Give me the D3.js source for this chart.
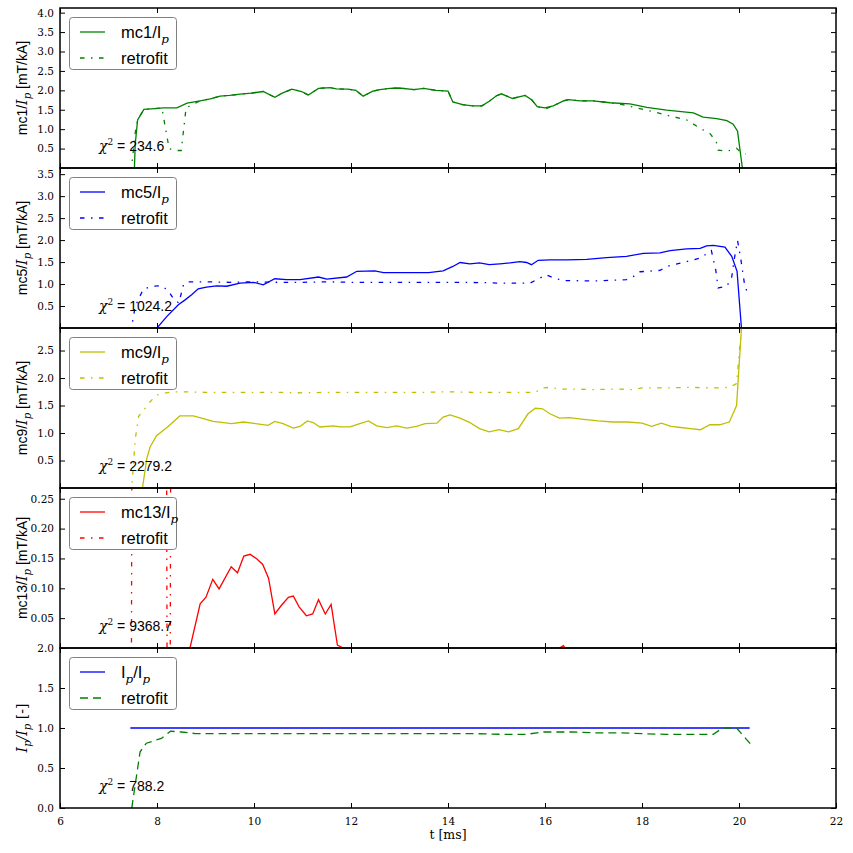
<!DOCTYPE html>
<html><head><meta charset="utf-8">
<script src="https://cdn.jsdelivr.net/npm/d3@7"></script>
<style>body{margin:0;background:#fff;} svg{display:block}</style>
</head><body>
<svg id="chart" width="853" height="853"></svg>
<script>
// ---------------- data ----------------
const xTicks = [6, 8, 10, 12, 14, 16, 18, 20, 22];
const chi2Values = ["234.6", "1024.2", "2279.2", "9368.7", "788.2"];

const yTicks1 = [0.5, 1.0, 1.5, 2.0, 2.5, 3.0, 3.5, 4.0];
const yTicks2 = [0.5, 1.0, 1.5, 2.0, 2.5, 3.0, 3.5];
const yTicks3 = [0.5, 1.0, 1.5, 2.0, 2.5];
const yTicks4 = [0.05, 0.10, 0.15, 0.20, 0.25];
const yTicks5 = [0.0, 0.5, 1.0, 1.5, 2.0];

const mc1T = [7.53,7.55,7.60,7.73,7.95,8.13,8.41,8.62,8.89,9.10,9.30,9.50,9.71,9.95,10.19,10.43,10.57,10.78,10.98,11.12,11.33,11.57,11.70,11.94,12.10,12.25,12.45,12.60,12.80,13.00,13.30,13.50,13.75,14.00,14.10,14.30,14.50,14.70,14.85,15.00,15.10,15.33,15.59,15.73,15.84,16.00,16.17,16.38,16.48,16.72,16.99,17.34,17.75,18.10,18.51,19.06,19.26,19.54,19.75,19.88,19.97,20.08];
const mc1V = [-0.2,0.6,1.24,1.51,1.53,1.55,1.55,1.67,1.73,1.78,1.85,1.87,1.90,1.93,1.97,1.82,1.92,2.03,1.97,1.88,2.05,2.07,2.04,2.03,2.00,1.85,1.98,2.02,2.05,2.06,2.02,2.05,2.00,1.98,1.70,1.63,1.60,1.60,1.72,1.86,1.91,1.79,1.87,1.75,1.58,1.55,1.60,1.73,1.76,1.73,1.73,1.68,1.65,1.56,1.49,1.42,1.31,1.27,1.22,1.13,0.95,-0.1];
const fit1T = [7.46,7.50,7.55,7.60,7.73,7.95,8.10,8.25,8.35,8.50,8.60,8.89,9.10,9.30,9.50,9.71,9.95,10.19,10.43,10.57,10.78,10.98,11.12,11.33,11.57,11.70,11.94,12.10,12.25,12.45,12.60,12.80,13.00,13.30,13.50,13.75,14.00,14.10,14.30,14.50,14.70,14.85,15.00,15.10,15.33,15.59,15.73,15.84,16.00,16.17,16.38,16.48,16.72,16.99,17.34,17.60,17.92,18.23,18.51,18.92,19.20,19.40,19.53,19.57,19.75,19.95,20.02,20.14];
const fit1V = [-0.1,0.3,0.9,1.24,1.51,1.53,1.55,0.50,0.45,0.45,1.55,1.73,1.78,1.85,1.87,1.90,1.93,1.97,1.82,1.92,2.03,1.97,1.88,2.05,2.07,2.04,2.03,2.00,1.85,1.98,2.02,2.05,2.06,2.02,2.05,2.00,1.98,1.70,1.63,1.60,1.60,1.72,1.86,1.91,1.79,1.87,1.75,1.58,1.52,1.60,1.73,1.76,1.73,1.73,1.68,1.63,1.54,1.45,1.36,1.24,1.02,0.89,0.68,0.46,0.43,0.51,0.42,0.36];

const mc5T = [7.98,8.00,8.20,8.44,8.58,8.72,8.85,9.02,9.23,9.44,9.71,9.99,10.19,10.43,10.67,10.95,11.33,11.50,11.91,12.12,12.49,12.67,13.01,13.30,13.60,13.90,14.10,14.25,14.45,14.65,14.85,15.07,15.28,15.48,15.62,15.72,15.86,16.10,16.45,16.86,17.27,17.68,18.03,18.37,18.58,18.92,19.20,19.33,19.47,19.71,19.85,19.96,20.05];
const mc5V = [-0.1,0.00,0.26,0.53,0.64,0.76,0.89,0.93,0.96,0.95,1.02,1.04,0.98,1.12,1.10,1.10,1.16,1.11,1.16,1.29,1.30,1.26,1.26,1.26,1.26,1.30,1.40,1.49,1.46,1.48,1.44,1.46,1.48,1.51,1.49,1.44,1.54,1.55,1.55,1.56,1.60,1.63,1.70,1.71,1.76,1.80,1.81,1.87,1.88,1.84,1.63,1.29,0.00];
const fit5T = [7.46,7.48,7.55,7.72,7.92,8.10,8.23,8.35,8.45,8.55,8.65,9.00,9.50,10.00,10.50,11.00,11.50,12.00,12.50,12.87,13.30,13.80,14.30,14.80,15.07,15.69,15.83,16.03,16.17,16.38,16.99,17.68,17.82,17.96,18.37,18.51,18.92,19.20,19.43,19.52,19.57,19.75,19.85,19.90,19.97,20.04,20.12,20.21];
const fit5V = [-0.1,0.04,0.49,0.89,0.95,0.96,0.85,0.65,0.57,1.00,1.05,1.05,1.04,1.05,1.04,1.04,1.05,1.04,1.04,1.04,1.04,1.04,1.04,1.03,1.02,1.02,1.10,1.21,1.14,1.08,1.07,1.10,1.17,1.28,1.31,1.40,1.51,1.59,1.76,1.32,0.91,0.95,1.16,1.55,1.99,1.55,0.95,0.72];

const mc9T = [7.68,7.70,7.79,7.86,7.99,8.23,8.47,8.75,9.16,9.54,9.78,10.29,10.43,10.60,10.81,10.95,11.10,11.22,11.36,11.64,11.77,11.98,12.15,12.36,12.53,12.74,12.94,13.15,13.35,13.53,13.77,13.90,14.04,14.25,14.45,14.65,14.85,15.05,15.25,15.45,15.65,15.80,15.95,16.10,16.30,16.50,16.80,17.10,17.40,17.70,18.00,18.20,18.40,18.60,18.80,19.00,19.20,19.40,19.60,19.80,19.95,20.05,20.12];
const mc9V = [-0.1,0.00,0.54,0.75,0.95,1.12,1.31,1.31,1.21,1.17,1.20,1.14,1.21,1.17,1.09,1.12,1.22,1.19,1.11,1.13,1.11,1.11,1.16,1.22,1.13,1.10,1.13,1.09,1.12,1.17,1.18,1.29,1.33,1.27,1.19,1.08,1.02,1.06,1.02,1.08,1.35,1.45,1.44,1.35,1.27,1.28,1.25,1.22,1.20,1.20,1.18,1.12,1.18,1.12,1.10,1.08,1.06,1.15,1.15,1.20,1.50,2.90,3.00];
const fit9T = [7.46,7.48,7.55,7.62,7.86,7.99,8.13,8.34,8.60,9.00,9.50,10.00,10.50,11.00,11.50,12.00,12.50,13.00,13.50,14.00,14.50,15.00,15.50,15.80,15.95,16.10,16.30,16.60,17.00,17.50,17.80,18.00,18.50,19.00,19.50,19.80,19.95,20.05,20.10];
const fit9V = [-0.1,0.00,0.88,1.30,1.57,1.69,1.72,1.75,1.75,1.74,1.74,1.74,1.74,1.73,1.74,1.74,1.74,1.74,1.74,1.75,1.74,1.74,1.74,1.74,1.82,1.83,1.80,1.80,1.79,1.80,1.79,1.82,1.82,1.83,1.82,1.83,1.90,2.90,3.00];

const mc13T = [7.48,8.60,8.68,8.89,9.01,9.15,9.28,9.53,9.66,9.79,9.92,10.06,10.18,10.30,10.43,10.57,10.71,10.81,10.93,11.08,11.21,11.33,11.47,11.59,11.72,11.84,11.95,13.00,14.00,15.00,16.20,16.38,16.45,17.00,18.00,19.00,20.00,20.20];
const mc13V = [-0.2,-0.02,0.000,0.074,0.085,0.115,0.099,0.136,0.126,0.154,0.157,0.149,0.140,0.117,0.057,0.072,0.085,0.087,0.069,0.054,0.057,0.081,0.057,0.073,0.005,0.000,-0.01,-0.02,-0.02,-0.02,-0.005,0.004,-0.005,-0.02,-0.02,-0.02,-0.02,-0.3];
const fit13T = [7.46,7.50,8.18,8.22,8.26,8.30,20.20];
const fit13V = [-0.5,1.0,1.0,-0.5,-0.5,1.0,1.0];

const ipT = [7.45,20.22];
const ipV = [1.0,1.0];
const fitIpT = [7.48,7.65,7.78,8.09,8.28,8.50,8.80,9.50,10.50,11.50,12.50,13.50,14.50,15.20,15.60,15.97,16.55,17.00,17.52,18.00,18.50,19.00,19.47,19.66,19.95,20.25];
const fitIpV = [0.00,0.70,0.81,0.87,0.96,0.95,0.93,0.93,0.93,0.93,0.93,0.93,0.93,0.92,0.92,0.95,0.95,0.94,0.94,0.93,0.92,0.92,0.92,1.00,1.00,0.79];

// ---------------- layout / style ----------------
const SANS = "'Liberation Sans', Arial, sans-serif";
const SERIF = "'DejaVu Serif', serif";
const DASHDOT = "4.5,6.5,1.5,6.5";
const DASHED = "8,5";
const X0 = 60, X1 = 836, TOP = 8, PH = 160;

const panels = [
  {t: mc1T, v: mc1V, ft: fit1T, fv: fit1V, color: "#008000", fitColor: "#008000", dash: DASHDOT,
   domain: [0, 4.12], ticks: yTicks1, fmt: d3.format(".1f"), chi: chi2Values[0],
   ylabel: [{t:"mc1/",f:"sans"},{t:"I",f:"serif",it:1},{t:"p",f:"serif",it:1,sub:1},{t:" [mT/kA]",f:"sans"}],
   legend: [{t:"mc1/I",f:"sans"},{t:"p",f:"serif",it:1,sub:1}]},
  {t: mc5T, v: mc5V, ft: fit5T, fv: fit5V, color: "#0000ff", fitColor: "#0000ff", dash: DASHDOT,
   domain: [0, 3.64], ticks: yTicks2, fmt: d3.format(".1f"), chi: chi2Values[1],
   ylabel: [{t:"mc5/",f:"sans"},{t:"I",f:"serif",it:1},{t:"p",f:"serif",it:1,sub:1},{t:" [mT/kA]",f:"sans"}],
   legend: [{t:"mc5/I",f:"sans"},{t:"p",f:"serif",it:1,sub:1}]},
  {t: mc9T, v: mc9V, ft: fit9T, fv: fit9V, color: "#bfbf00", fitColor: "#bfbf00", dash: DASHDOT,
   domain: [0, 2.91], ticks: yTicks3, fmt: d3.format(".1f"), chi: chi2Values[2],
   ylabel: [{t:"mc9/",f:"sans"},{t:"I",f:"serif",it:1},{t:"p",f:"serif",it:1,sub:1},{t:" [mT/kA]",f:"sans"}],
   legend: [{t:"mc9/I",f:"sans"},{t:"p",f:"serif",it:1,sub:1}]},
  {t: mc13T, v: mc13V, ft: fit13T, fv: fit13V, color: "#ff0000", fitColor: "#ff0000", dash: DASHDOT,
   domain: [0, 0.268], ticks: yTicks4, fmt: d3.format(".2f"), chi: chi2Values[3],
   ylabel: [{t:"mc13/",f:"sans"},{t:"I",f:"serif",it:1},{t:"p",f:"serif",it:1,sub:1},{t:" [mT/kA]",f:"sans"}],
   legend: [{t:"mc13/I",f:"sans"},{t:"p",f:"serif",it:1,sub:1}]},
  {t: ipT, v: ipV, ft: fitIpT, fv: fitIpV, color: "#0000ff", fitColor: "#008000", dash: DASHED,
   domain: [0, 2.0], ticks: yTicks5, fmt: d3.format(".1f"), chi: chi2Values[4],
   ylabel: [{t:"I",f:"serif",it:1},{t:"p",f:"serif",it:1,sub:1},{t:"/",f:"serif",it:1},{t:"I",f:"serif",it:1},{t:"p",f:"serif",it:1,sub:1},{t:" [-]",f:"serif"}],
   legend: [{t:"I",f:"sans"},{t:"p",f:"serif",it:1,sub:1},{t:"/I",f:"sans"},{t:"p",f:"serif",it:1,sub:1}]}
];

const svg = d3.select("#chart");
const x = d3.scaleLinear().domain([6, 22]).range([X0, X1]);

function rich(sel, parts, size) {
  let shift = 0;
  parts.forEach(p => {
    const fs = p.sub ? size * 0.72 : size;
    const target = p.sub ? size * 0.3 : 0;
    sel.append("tspan").text(p.t)
      .attr("font-family", p.f === "sans" ? SANS : SERIF)
      .attr("font-style", p.it ? "italic" : "normal")
      .attr("font-size", fs)
      .attr("dy", target - shift);
    shift = target;
  });
}

panels.forEach((P, i) => {
  const top = TOP + i * PH, bot = top + PH;
  const y = d3.scaleLinear().domain(P.domain).range([bot, top]);
  const g = svg.append("g");
  const clipId = "clip" + i;
  svg.append("clipPath").attr("id", clipId).append("rect")
    .attr("x", X0).attr("y", top).attr("width", X1 - X0).attr("height", PH);

  const line = d3.line().x(d => x(d[0])).y(d => y(d[1]));
  const lines = g.append("g").attr("clip-path", `url(#${clipId})`);
  lines.append("path").datum(d3.zip(P.t, P.v)).attr("d", line)
    .attr("fill", "none").attr("stroke", P.color).attr("stroke-width", 1.3);
  lines.append("path").datum(d3.zip(P.ft, P.fv)).attr("d", line)
    .attr("fill", "none").attr("stroke", P.fitColor).attr("stroke-width", 1.3)
    .attr("stroke-dasharray", P.dash);

  // axes (inward ticks on all sides)
  const left = d3.axisLeft(y).tickValues(P.ticks).tickFormat(P.fmt).tickSizeInner(-5).tickSizeOuter(0).tickPadding(6);
  const right = d3.axisRight(y).tickValues(P.ticks).tickFormat("").tickSizeInner(-5).tickSizeOuter(0);
  const topAx = d3.axisTop(x).tickValues(xTicks).tickFormat("").tickSizeInner(-5).tickSizeOuter(0);
  const botAx = d3.axisBottom(x).tickValues(xTicks).tickSizeInner(-5).tickSizeOuter(0).tickPadding(10)
    .tickFormat(i === 4 ? d3.format("d") : "");
  const axes = [
    g.append("g").attr("transform", `translate(${X0},0)`).call(left),
    g.append("g").attr("transform", `translate(${X1},0)`).call(right),
    g.append("g").attr("transform", `translate(0,${top})`).call(topAx),
    g.append("g").attr("transform", `translate(0,${bot})`).call(botAx)
  ];
  axes.forEach(a => {
    a.select(".domain").remove();
    a.selectAll("line").attr("stroke", "#000").attr("stroke-width", 1);
    a.selectAll("text").attr("font-family", SERIF).attr("font-size", 10.5).attr("fill", "#000");
  });
  g.append("rect").attr("x", X0).attr("y", top).attr("width", X1 - X0).attr("height", PH)
    .attr("fill", "none").attr("stroke", "#000").attr("stroke-width", 1.5);

  // y label
  const yl = g.append("text").attr("text-anchor", "middle")
    .attr("transform", `translate(27,${top + PH / 2}) rotate(-90)`).attr("fill", "#000");
  rich(yl, P.ylabel, 14);

  // chi2
  const ct = g.append("text").attr("x", 99).attr("y", bot - 17).attr("fill", "#000");
  ct.append("tspan").text("\u03c7").attr("font-family", SERIF).attr("font-style", "italic").attr("font-size", 14);
  ct.append("tspan").text("2").attr("font-family", SERIF).attr("font-size", 9).attr("dy", -6);
  ct.append("tspan").text(" = " + P.chi).attr("font-family", SANS).attr("font-size", 14).attr("dy", 6);

  // legend
  const lg = g.append("g");
  lg.append("rect").attr("x", 69.5).attr("y", top + 9.5).attr("width", 107).attr("height", 52)
    .attr("rx", 3).attr("fill", "#fff").attr("stroke", "#808080").attr("stroke-width", 1);
  lg.append("line").attr("x1", 80).attr("x2", 105).attr("y1", top + 24).attr("y2", top + 24)
    .attr("stroke", P.color).attr("stroke-width", 1.3);
  lg.append("line").attr("x1", 80).attr("x2", 105).attr("y1", top + 50).attr("y2", top + 50)
    .attr("stroke", P.fitColor).attr("stroke-width", 1.3).attr("stroke-dasharray", P.dash);
  const t1 = lg.append("text").attr("x", 121).attr("y", top + 30).attr("fill", "#000");
  rich(t1, P.legend, 16.5);
  lg.append("text").attr("x", 121).attr("y", top + 56).attr("fill", "#000")
    .attr("font-family", SANS).attr("font-size", 16.5).text("retrofit");
});

svg.append("text").attr("x", (X0 + X1) / 2).attr("y", 839).attr("text-anchor", "middle")
  .attr("font-family", SERIF).attr("font-size", 12.5).attr("fill", "#000").text("t [ms]");
</script>
</body></html>
